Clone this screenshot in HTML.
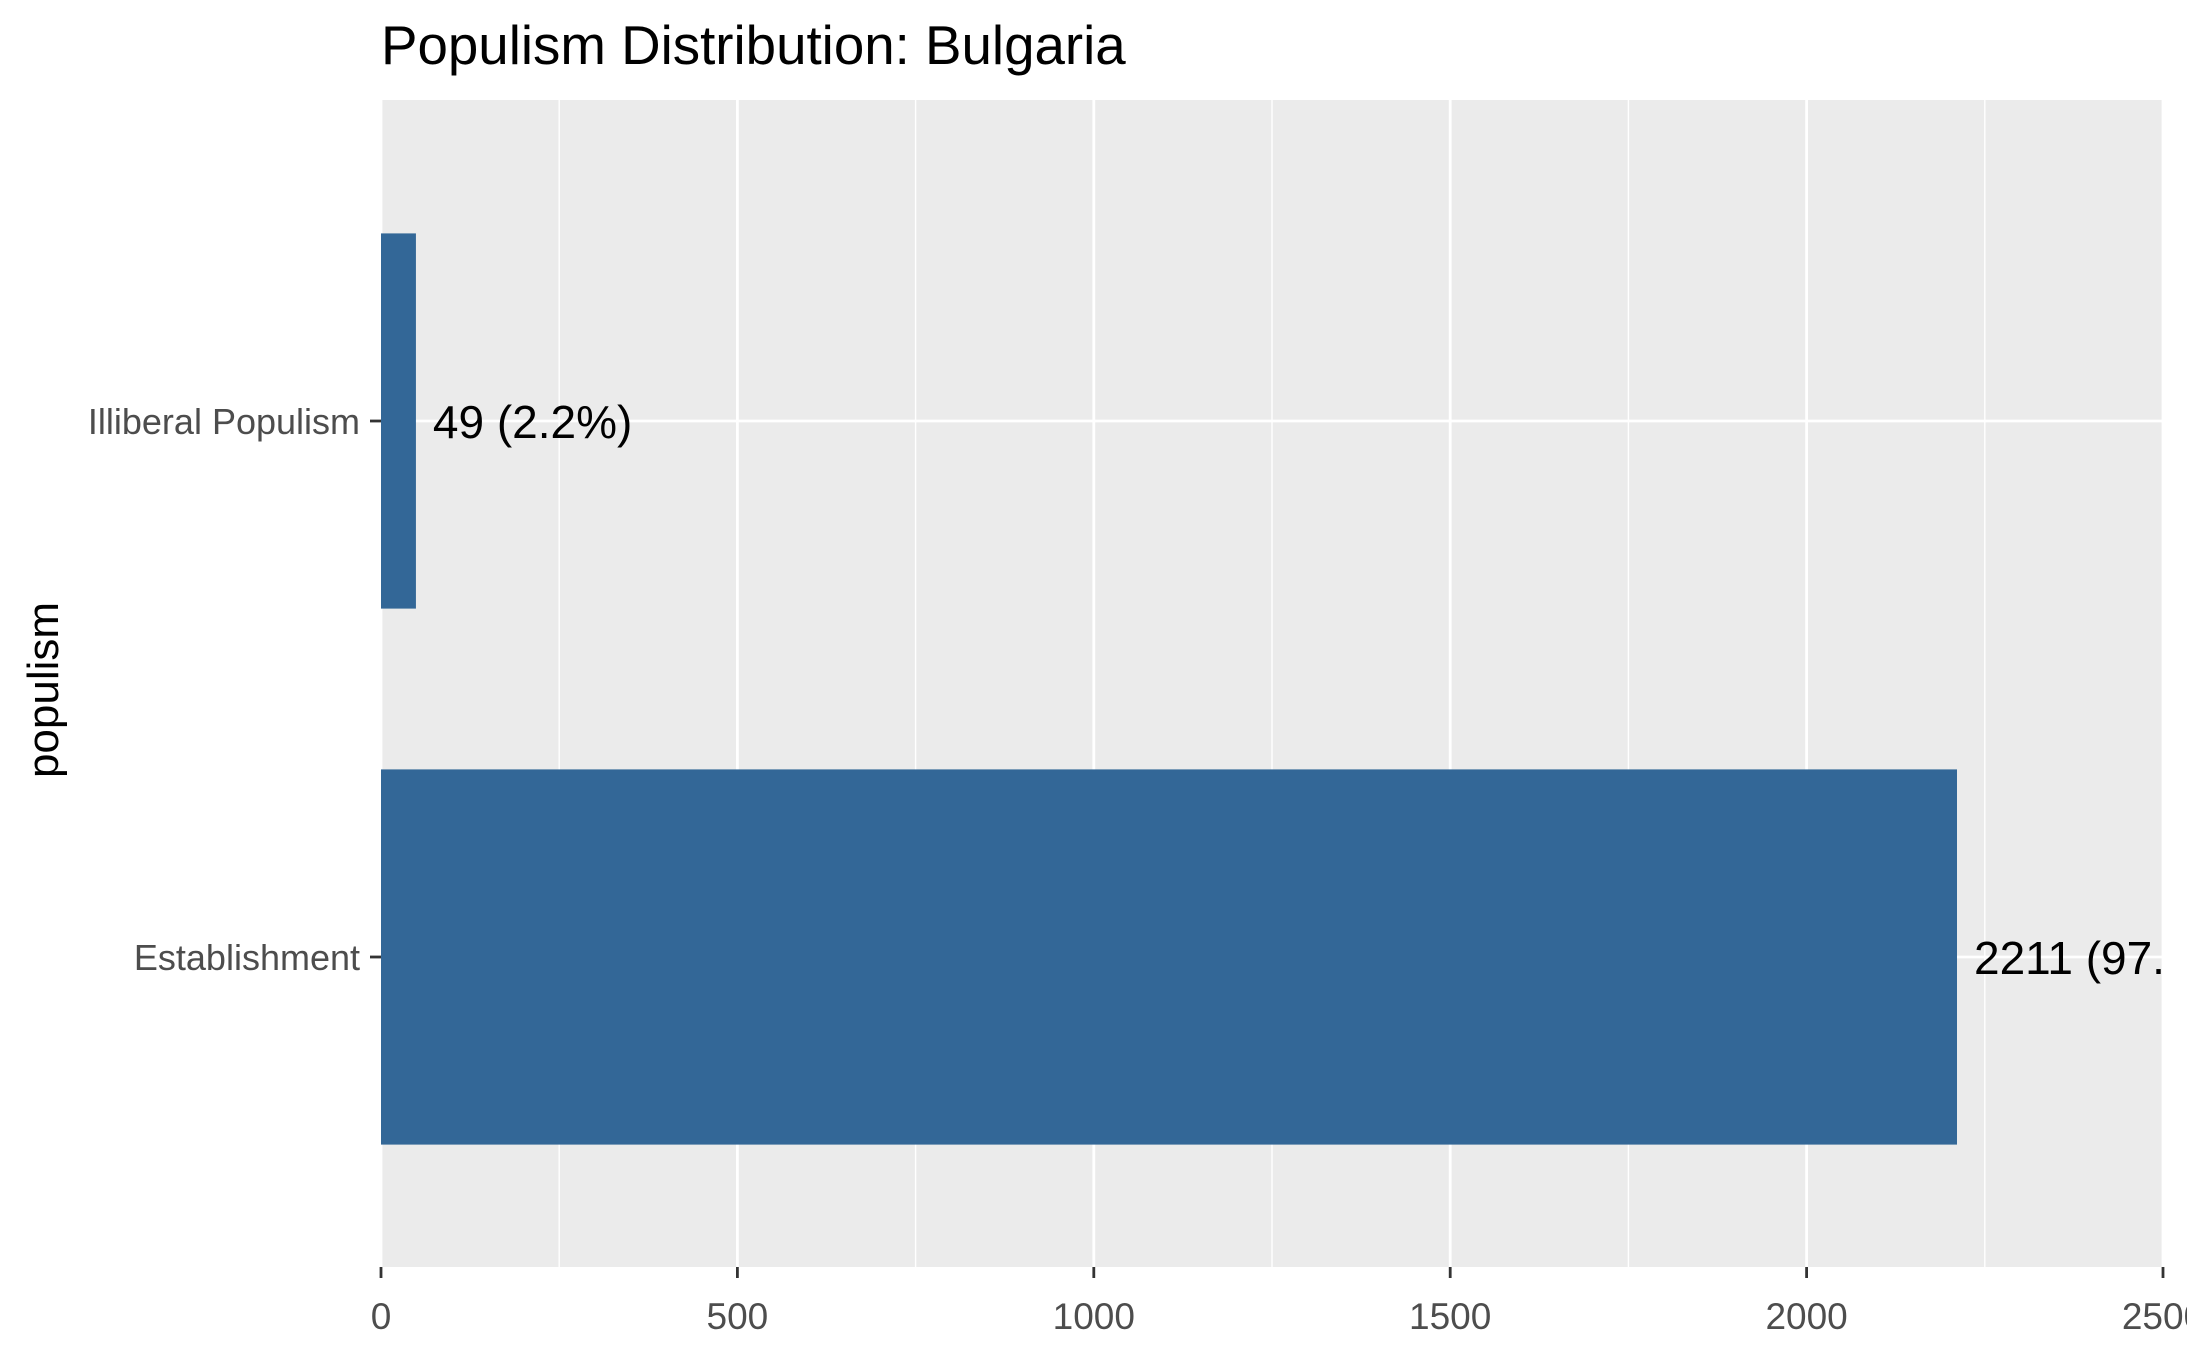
<!DOCTYPE html>
<html><head><meta charset="utf-8"><style>
html,body{margin:0;padding:0;background:#fff;}
svg{display:block;font-family:"Liberation Sans",Arial,sans-serif;}
</style></head><body>
<svg id="chart" width="2187" height="1350" viewBox="0 0 2187 1350">
<defs><clipPath id="pc"><rect x="381" y="100" width="1782" height="1167"/></clipPath></defs>
<text x="381" y="64" font-size="54.7" fill="#000">Populism Distribution: Bulgaria</text>
<rect x="381" y="100" width="1782" height="1167" fill="#ebebeb"/>
<g id="grid"></g>
<g id="bars" clip-path="url(#pc)"></g>
<g id="axes"></g>
<text transform="translate(58,690) rotate(-90)" text-anchor="middle" font-size="44" fill="#000">populism</text>
</svg>
<script>
const categories = ["Establishment", "Illiberal Populism"];
const counts = [2211, 49];
const labels = ["2211 (97.8%)", "49 (2.2%)"];
const xTicks = [0, 500, 1000, 1500, 2000, 2500];
const xMinor = [250, 750, 1250, 1750, 2250];

const NS = "http://www.w3.org/2000/svg";
const L = 381, R = 2163, T = 100, B = 1267, XMAX = 2500;
const x = v => L + (v / XMAX) * (R - L);
const step = 536;
const yC = i => 957 - step * i;
const bw = step * 0.7;
function mk(tag, attrs, parent) {
  const e = document.createElementNS(NS, tag);
  for (const k in attrs) e.setAttribute(k, attrs[k]);
  parent.appendChild(e); return e;
}
const grid = document.getElementById('grid');
const bars = document.getElementById('bars');
const axes = document.getElementById('axes');
xMinor.forEach(v => {
  const l = mk('line', {x1: x(v), x2: x(v), y1: T, y2: B, stroke: '#fff', 'stroke-width': 1.4}, grid);
  
  
});
xTicks.forEach(v => {
  const l = mk('line', {x1: x(v), x2: x(v), y1: T, y2: B, stroke: '#fff', 'stroke-width': 2.8}, grid);
  
  
  const t = mk('line', {x1: x(v), x2: x(v), y1: B, y2: B + 11, stroke: '#333', 'stroke-width': 2.8}, axes);
  
  
  const tx = mk('text', {x: x(v), y: 1329, 'text-anchor': 'middle', 'font-size': 37, fill: '#4d4d4d'}, axes);
  tx.textContent = String(v);
  
  
});
categories.forEach((c, i) => {
  const yc = yC(i);
  const g = mk('line', {x1: L, x2: R, y1: yc, y2: yc, stroke: '#fff', 'stroke-width': 2.8}, grid);
  
  
  const r = mk('rect', {x: x(0), y: yc - bw / 2, width: x(counts[i]) - x(0), height: bw, fill: '#336797'}, bars);
  
  
  const lt = mk('text', {x: x(counts[i]) + 17, y: yc + 17, 'font-size': 46, fill: '#000'}, bars);
  lt.textContent = labels[i];
  
  
  const tk = mk('line', {x1: L - 11, x2: L, y1: yc, y2: yc, stroke: '#333', 'stroke-width': 2.8}, axes);
  
  
  const yl = mk('text', {x: 360, y: yc + 13, 'text-anchor': 'end', 'font-size': 36, fill: '#4d4d4d'}, axes);
  yl.textContent = c;
  
  
});
</script>
</body></html>
